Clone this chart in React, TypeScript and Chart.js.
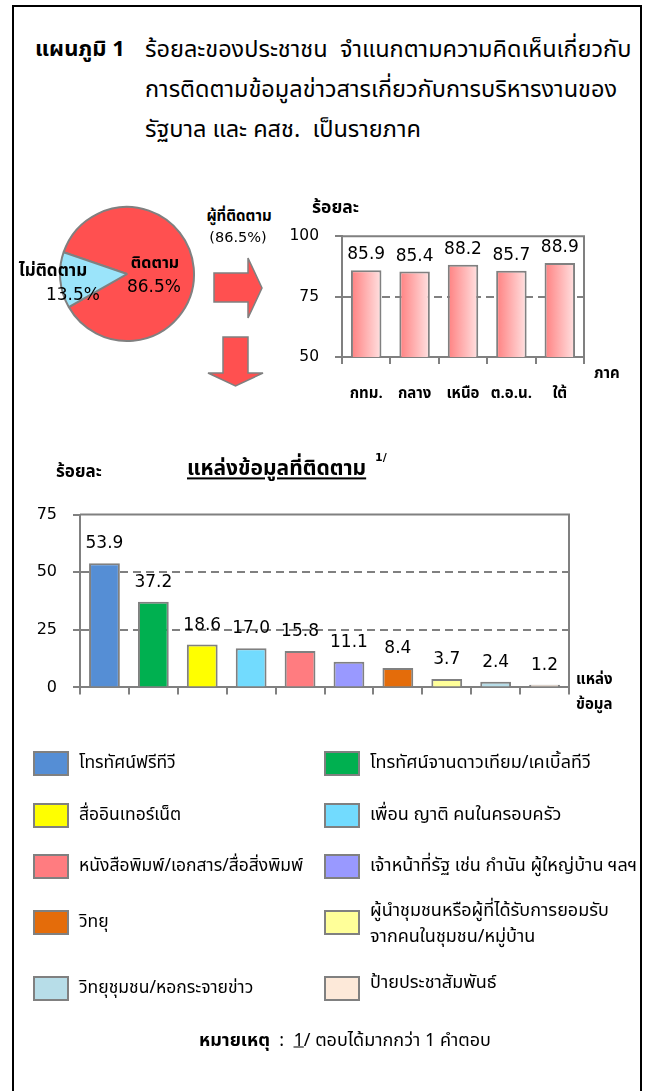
import React, { useEffect, useRef } from "react";
import { Chart, registerables } from "chart.js";

Chart.register(...registerables);

// ---------- data ----------
const pieLabels = ["ติดตาม", "ไม่ติดตาม"];
const pieValues = [86.5, 13.5];
const pieColors = ["#FF5050", "#9BE4FA"];

const regionLabels = ["กทม.", "กลาง", "เหนือ", "ต.อ.น.", "ใต้"];
const regionValues = [85.9, 85.4, 88.2, 85.7, 88.9];
const regionTicks = [50, 75, 100];

const sourceLabels = [
  "โทรทัศน์ฟรีทีวี",
  "โทรทัศน์จานดาวเทียม/เคเบิ้ลทีวี",
  "สื่ออินเทอร์เน็ต",
  "เพื่อน ญาติ คนในครอบครัว",
  "หนังสือพิมพ์/เอกสาร/สื่อสิ่งพิมพ์",
  "เจ้าหน้าที่รัฐ เช่น กำนัน ผู้ใหญ่บ้าน ฯลฯ",
  "วิทยุ",
  "ผู้นำชุมชนหรือผู้ที่ได้รับการยอมรับ\nจากคนในชุมชน/หมู่บ้าน",
  "วิทยุชุมชน/หอกระจายข่าว",
  "ป้ายประชาสัมพันธ์",
];
const sourceValues = [53.9, 37.2, 18.6, 17.0, 15.8, 11.1, 8.4, 3.7, 2.4, 1.2];
const sourceColors = [
  "#558ED5", "#00B050", "#FFFF00", "#72DBFE", "#FF7C80",
  "#9999FF", "#E46C0A", "#FFFF99", "#B7DDE8", "#FDE9D9",
];
const sourceTicks = [0, 25, 50, 75];

// ---------- styles ----------
const THAI = "'Noto Sans Thai', 'Noto Sans Thai UI', 'Noto Sans', 'DejaVu Sans', sans-serif";
const NUM = "'DejaVu Sans', sans-serif";
const GREY = "#808080";

const framePlugin = {
  id: "frame",
  beforeDatasetsDraw(chart: any) {
    const { ctx, chartArea: a } = chart;
    ctx.save();
    ctx.strokeStyle = GREY;
    ctx.lineWidth = 2;
    ctx.beginPath();
    ctx.moveTo(a.left, a.top);
    ctx.lineTo(a.right, a.top);
    ctx.lineTo(a.right, a.bottom);
    ctx.stroke();
    ctx.restore();
  },
};

const valueLabelPlugin = {
  id: "valueLabels",
  afterDatasetsDraw(chart: any, _args: any, opts: any) {
    const { ctx } = chart;
    const meta = chart.getDatasetMeta(0);
    const data = chart.data.datasets[0].data;
    ctx.save();
    ctx.font = opts.font;
    ctx.fillStyle = "#000";
    ctx.textAlign = "center";
    ctx.textBaseline = "alphabetic";
    meta.data.forEach((bar: any, i: number) => {
      ctx.fillText(Number(data[i]).toFixed(1), bar.x, bar.y - opts.offset);
    });
    ctx.restore();
  },
};

function yScale(ticks: number[], width: number, fontSize: number) {
  const min = ticks[0];
  const max = ticks[ticks.length - 1];
  return {
    min,
    max,
    afterFit: (s: any) => { s.width = width; },
    afterBuildTicks: (s: any) => { s.ticks = ticks.map((v) => ({ value: v })); },
    ticks: { color: "#000", font: { family: NUM, size: fontSize }, padding: 16 },
    grid: {
      color: (c: any) => (c.tick && (c.tick.value === min || c.tick.value === max) ? "rgba(0,0,0,0)" : GREY),
      lineWidth: 2,
      tickColor: GREY,
      tickLength: 7,
      tickWidth: 2,
    },
    border: { color: GREY, width: 2, dash: [8, 5] },
  };
}

function PieChart() {
  const ref = useRef<HTMLCanvasElement>(null);
  useEffect(() => {
    const chart = new Chart(ref.current!, {
      type: "pie",
      data: {
        labels: pieLabels,
        datasets: [{ data: pieValues, backgroundColor: pieColors, borderColor: GREY, borderWidth: 2 }],
      },
      options: {
        animation: false,
        responsive: false,
        rotation: 289,
        layout: { padding: 1 },
        plugins: { legend: { display: false }, tooltip: { enabled: false } },
      },
    });
    return () => chart.destroy();
  }, []);
  return <canvas ref={ref} width={138} height={138} style={{ position: "absolute", left: 58, top: 205, width: 138, height: 138 }} />;
}

function RegionChart() {
  const ref = useRef<HTMLCanvasElement>(null);
  useEffect(() => {
    const chart = new Chart(ref.current!, {
      type: "bar",
      data: {
        labels: regionLabels,
        datasets: [{
          data: regionValues,
          backgroundColor: (c: any) => {
            const ch = c.chart;
            if (!ch.chartArea) return "#FF9090";
            const x = ch.scales.x.getPixelForValue(c.dataIndex);
            const w = (ch.chartArea.width / regionLabels.length) * 0.63;
            const g = ch.ctx.createLinearGradient(x - w / 2, 0, x + w / 2, 0);
            g.addColorStop(0, "#FF8080");
            g.addColorStop(1, "#FFE2E2");
            return g;
          },
          borderColor: GREY,
          borderWidth: 2,
          categoryPercentage: 1,
          barPercentage: 0.63,
        }],
      },
      options: {
        animation: false,
        responsive: false,
        layout: { padding: { top: 0, right: 26, left: 0, bottom: 0 } },
        plugins: {
          legend: { display: false },
          tooltip: { enabled: false },
          valueLabels: { font: `17px ${NUM}`, offset: 11 },
        } as any,
        scales: {
          x: {
            afterFit: (s: any) => { s.height = 53; },
            ticks: { color: "#000", font: { family: THAI, size: 15, weight: "bold" }, padding: 22 },
            grid: { drawOnChartArea: false, color: GREY, lineWidth: 2, tickLength: 7, offset: true },
            border: { color: GREY, width: 2 },
          },
          y: yScale(regionTicks, 62, 15.5) as any,
        },
      },
      plugins: [framePlugin, valueLabelPlugin],
    });
    return () => chart.destroy();
  }, []);
  return <canvas ref={ref} width={330} height={199} style={{ position: "absolute", left: 280, top: 211, width: 330, height: 199 }} />;
}

function SourceChart() {
  const ref = useRef<HTMLCanvasElement>(null);
  useEffect(() => {
    const chart = new Chart(ref.current!, {
      type: "bar",
      data: {
        labels: sourceLabels,
        datasets: [{
          data: sourceValues,
          backgroundColor: sourceColors,
          borderColor: GREY,
          borderWidth: 2,
          categoryPercentage: 1,
          barPercentage: 0.63,
        }],
      },
      options: {
        animation: false,
        responsive: false,
        layout: { padding: { top: 0, right: 31, left: 0, bottom: 0 } },
        plugins: {
          legend: { display: false },
          tooltip: { enabled: false },
          valueLabels: { font: `17px ${NUM}`, offset: 15 },
        } as any,
        scales: {
          x: {
            afterFit: (s: any) => { s.height = 10; },
            ticks: { display: false },
            grid: { drawOnChartArea: false, color: GREY, lineWidth: 2, tickLength: 7, offset: true },
            border: { color: GREY, width: 2 },
          },
          y: yScale(sourceTicks, 60, 16) as any,
        },
      },
      plugins: [framePlugin, valueLabelPlugin],
    });
    return () => chart.destroy();
  }, []);
  return <canvas ref={ref} width={580} height={224} style={{ position: "absolute", left: 20, top: 489, width: 580, height: 224 }} />;
}

function T(props: { x: number; y: number; children: any; size?: number; bold?: boolean; center?: boolean; font?: string; style?: any }) {
  const { x, y, children, size = 16, bold, center, font = THAI, style } = props;
  return (
    <div
      style={{
        position: "absolute",
        left: x,
        top: y,
        transform: center ? "translate(-50%, -50%)" : "translateY(-50%)",
        fontFamily: font,
        fontSize: size,
        fontWeight: bold ? "bold" : "normal",
        whiteSpace: "pre",
        lineHeight: 1.2,
        color: "#000",
        ...style,
      }}
    >
      {children}
    </div>
  );
}

const legendRows = [763, 815, 866, 922, 988];

export default function App() {
  useEffect(() => {
    document.body.style.margin = "0";
  }, []);
  return (
    <div style={{ position: "absolute", left: 0, top: 0, width: 648, height: 1091, overflow: "hidden", background: "#fff" }}>
      <div style={{ position: "absolute", left: 12, top: 5, width: 630, height: 1100, border: "2px solid #000", boxSizing: "border-box" }} />

      {/* Title */}
      <T x={35} y={50} size={22} bold>แผนภูมิ 1</T>
      <div style={{ position: "absolute", left: 145, top: 30, fontFamily: THAI, fontSize: 23.5, lineHeight: "40px", whiteSpace: "pre", color: "#000" }}>
        {"ร้อยละของประชาชน  จำแนกตามความคิดเห็นเกี่ยวกับ\nการติดตามข้อมูลข่าวสารเกี่ยวกับการบริหารงานของ\nรัฐบาล และ คสช.  เป็นรายภาค"}
      </div>

      {/* Pie */}
      <PieChart />
      <T x={155} y={264} size={16} bold center>{pieLabels[0]}</T>
      <T x={154} y={286} size={17} center font={NUM}>{`${pieValues[0]}%`}</T>
      <T x={53} y={271} size={17} bold center>{pieLabels[1]}</T>
      <T x={73} y={294} size={17} center font={NUM}>{`${pieValues[1]}%`}</T>

      <T x={239} y={217} size={15} bold center>ผู้ที่ติดตาม</T>
      <T x={238} y={238} size={14.5} center font={NUM}>{`(${pieValues[0]}%)`}</T>

      <svg width={648} height={1091} style={{ position: "absolute", left: 0, top: 0 }}>
        <polygon points="214,273 248,273 248,258 262,288 248,318 248,302 214,302" fill="#FF5050" stroke={GREY} strokeWidth={1.5} />
        <polygon points="223,337 248,337 248,373 263,373 235.5,386 208,373 223,373" fill="#FF5050" stroke={GREY} strokeWidth={1.5} />
      </svg>

      {/* Region chart */}
      <T x={312} y={207} size={17.5} bold>ร้อยละ</T>
      <RegionChart />
      <T x={594} y={374} size={15} bold>ภาค</T>

      {/* Source chart */}
      <T x={56} y={472} size={17} bold>ร้อยละ</T>
      <T x={187} y={469} size={21} bold style={{ textDecoration: "underline" }}>แหล่งข้อมูลที่ติดตาม</T>
      <T x={375} y={458} size={11} bold font={NUM}>1/</T>
      <SourceChart />
      <T x={576} y={680} size={15} bold>แหล่ง</T>
      <T x={576} y={705} size={15} bold>ข้อมูล</T>

      {/* Legend */}
      {sourceLabels.map((lab, i) => {
        const col = i % 2;
        const row = Math.floor(i / 2);
        const sx = col === 0 ? 33 : 324;
        const cy = legendRows[row];
        const multi = lab.includes("\n");
        return (
          <React.Fragment key={i}>
            <div style={{ position: "absolute", left: sx, top: cy - 12, width: 36, height: 25, background: sourceColors[i], border: `2px solid ${GREY}`, boxSizing: "border-box" }} />
            <div style={{ position: "absolute", left: sx + 46, top: cy + (multi ? 2 : i === 9 ? -5 : 0), transform: "translateY(-50%)", fontFamily: THAI, fontSize: col === 0 ? 17.5 : 18, whiteSpace: "pre", lineHeight: "26px", color: "#000" }}>
              {lab}
            </div>
          </React.Fragment>
        );
      })}

      {/* Footnote */}
      <div style={{ position: "absolute", left: 21, width: 648, top: 1040, transform: "translateY(-50%)", textAlign: "center", fontFamily: THAI, fontSize: 18, whiteSpace: "pre", color: "#000" }}>
        <b>หมายเหตุ</b>{"  :  "}<u>1</u>{"/ ตอบได้มากกว่า 1 คำตอบ"}
      </div>
    </div>
  );
}
